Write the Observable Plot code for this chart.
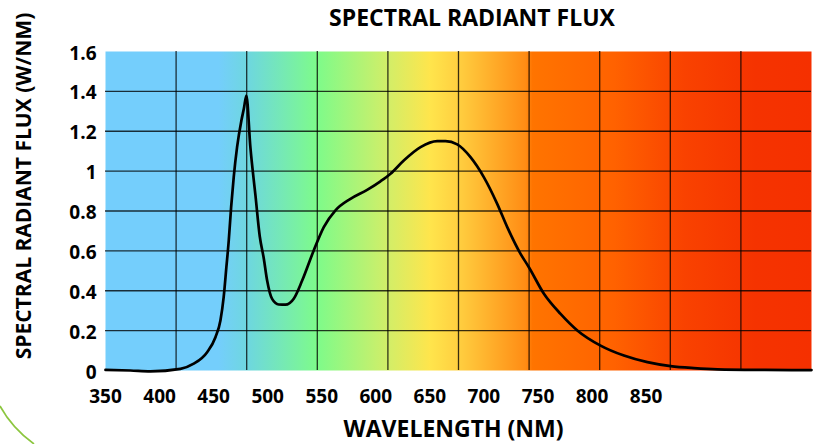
<!DOCTYPE html>
<html>
<head>
<meta charset="utf-8">
<script src="https://cdn.jsdelivr.net/npm/d3@7"></script>
<script src="https://cdn.jsdelivr.net/npm/@observablehq/plot@0.6"></script>
<style>
  body { margin: 0; background: #fff; }
  #wrap { position: relative; width: 817px; height: 444px; overflow: hidden; font-family: "Open Sans", sans-serif; }
  #title { height: 40px; box-sizing: border-box; padding-top: 6px; padding-left: 127px; text-align: center;
           font-size: 23px; line-height: 23px; font-weight: 700; color: #000; }
  #deco { position: absolute; left: 0; top: 0; pointer-events: none; }
</style>
</head>
<body>
<div id="wrap">
  <div id="title"></div>
  <div id="chart"></div>
</div>
<script>
// ---- data ----
const title = "SPECTRAL RADIANT FLUX";
const xLabel = "WAVELENGTH (NM)";
const yLabel = "SPECTRAL RADIANT FLUX (W/NM)";

const wavelength = [350, 373, 391.5, 419.3, 431.6, 444.0, 451.7, 456.3, 459.3, 461.8, 464.0, 466.2, 468.6, 471.7,
  475.7, 478.0, 480.3, 484.0, 488.7, 492.7, 496.4, 499.5, 504.1, 510.2, 516.4, 524.1, 531.9, 542.6, 551.9,
  562.7, 576.6, 592.0, 604.3, 613.6, 625.9, 641.4, 656.8, 664.5, 675.3, 687.6, 699.9, 712.3, 721.6, 733.9, 741.6,
  755.5, 770.9, 786.4, 807.9, 829.5, 851.2, 872.7, 894.3, 915.9, 960, 1003];
const flux = [0.003, 0.0, -0.004, 0.0085, 0.034, 0.092, 0.167, 0.251, 0.368, 0.518, 0.652, 0.819, 0.970, 1.120,
  1.254, 1.314, 1.379, 1.120, 0.878, 0.672, 0.562, 0.451, 0.359, 0.331, 0.330, 0.360, 0.451, 0.602, 0.719,
  0.803, 0.861, 0.906, 0.949, 0.987, 1.053, 1.120, 1.150, 1.150, 1.134, 1.070, 0.970, 0.836, 0.719, 0.585, 0.518,
  0.385, 0.284, 0.201, 0.125, 0.075, 0.042, 0.022, 0.012, 0.006, 0.003, 0.002];

const xTicks = [350, 400, 450, 500, 550, 600, 650, 700, 750, 800, 850];
const yTicks = [0, 0.2, 0.4, 0.6, 0.8, 1, 1.2, 1.4, 1.6];
const yGrid = [0.2, 0.4, 0.6, 0.8, 1, 1.2, 1.4];
const xDomain = [350, 1003];
const yDomain = [0, 1.6];
const gridColumns = 10;

const spectrumStops = [
  [0, "#74cefc"], [0.16, "#74cefc"], [0.205, "#6ed8dc"], [0.30, "#7efb8a"], [0.40, "#d2ee68"],
  [0.46, "#ffe54c"], [0.50, "#ffcf40"], [0.595, "#ff8c14"], [0.605, "#ff7400"], [0.72, "#ff6200"],
  [0.82, "#f94200"], [0.92, "#f53300"], [1, "#f53000"]
];

// ---- derived tables ----
const points = wavelength.map((w, i) => ({wavelength: w, flux: flux[i]}));
const xGrid = d3.range(1, gridColumns).map(i => xDomain[0] + i * (xDomain[1] - xDomain[0]) / gridColumns);

document.getElementById("title").textContent = title;

const gradientDefs = () => {
  const defs = d3.create("svg:defs");
  const g = defs.append("linearGradient").attr("id", "spectrum").attr("x1", 0).attr("x2", 1).attr("y1", 0).attr("y2", 0);
  spectrumStops.forEach(([o, c]) => g.append("stop").attr("offset", o).attr("stop-color", c));
  return defs.node();
};

const chart = Plot.plot({
  width: 817,
  height: 404,
  marginTop: 11,
  marginBottom: 74,
  marginLeft: 105,
  marginRight: 6,
  style: {fontFamily: "'Open Sans', sans-serif", fontSize: "19px", fontWeight: 700, color: "#000", background: "transparent", overflow: "visible"},
  x: {domain: xDomain},
  y: {domain: yDomain},
  marks: [
    gradientDefs,
    Plot.frame({fill: "url(#spectrum)"}),
    Plot.ruleY(yGrid, {stroke: "#000", strokeOpacity: 0.78, strokeWidth: 1.3}),
    Plot.ruleX(xGrid, {stroke: "#000", strokeOpacity: 0.78, strokeWidth: 1.3}),
    Plot.line(points, {x: "wavelength", y: "flux", curve: "monotone-x", stroke: "#000", strokeWidth: 2.7}),
    Plot.axisX(xTicks, {tickSize: 0, tickPadding: 19, label: null, fontSize: 19, fontWeight: 700}),
    Plot.axisY(yTicks, {tickSize: 0, tickPadding: 9, label: null, tickFormat: d => `${d}`, fontSize: 19, fontWeight: 700, dy: 2}),
    Plot.text([yLabel], {text: d => d, frameAnchor: "left", textAnchor: "middle", lineAnchor: "middle", rotate: -90, dx: -81, dy: -25, fontSize: 21, fontWeight: 700}),
    Plot.text([xLabel], {text: d => d, frameAnchor: "bottom", textAnchor: "middle", lineAnchor: "middle", dx: -5, dy: 59, fontSize: 23, fontWeight: 700})
  ]
});
document.getElementById("chart").appendChild(chart);

// decorative arc in the lower-left corner
const deco = d3.select("#wrap").append("svg").attr("id", "deco").attr("width", 817).attr("height", 444);
deco.append("path").attr("d", "M0,406 Q12,428 34,444").attr("fill", "none").attr("stroke", "#8cc63f").attr("stroke-width", 1.6);
</script>
</body>
</html>
